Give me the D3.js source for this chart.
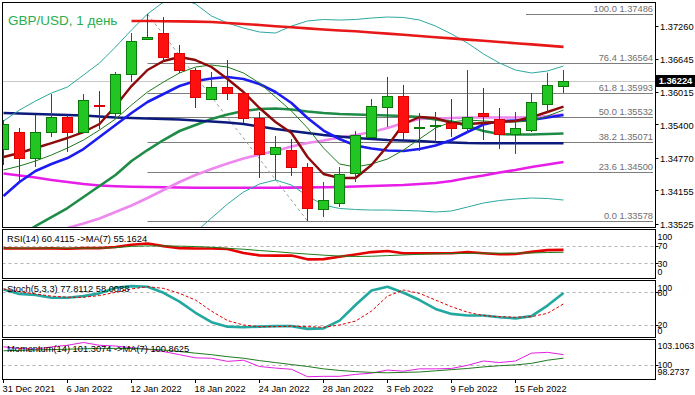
<!DOCTYPE html>
<html><head><meta charset="utf-8">
<script src="https://cdn.jsdelivr.net/npm/d3@7"></script>
<style>html,body{margin:0;padding:0;background:#fff;}svg{display:block;font-family:"Liberation Sans",Arial,sans-serif;}</style>
</head><body><div id="chart"></div>
<script>
// ---------- DATA ----------
const dates = ["31 Dec","3 Jan","4 Jan","5 Jan","6 Jan","7 Jan","10 Jan","11 Jan","12 Jan","13 Jan","14 Jan","17 Jan","18 Jan","19 Jan","20 Jan","21 Jan","24 Jan","25 Jan","26 Jan","27 Jan","28 Jan","31 Jan","1 Feb","2 Feb","3 Feb","4 Feb","7 Feb","8 Feb","9 Feb","10 Feb","11 Feb","14 Feb","15 Feb","16 Feb","17 Feb","18 Feb"];
const open  = [1.34937,1.35258,1.34767,1.35258,1.35541,1.35258,1.35768,1.35617,1.36353,1.37014,1.37127,1.36750,1.36429,1.35881,1.36108,1.35995,1.35523,1.34843,1.34918,1.34598,1.33805,1.33924,1.34484,1.35164,1.35730,1.35938,1.35353,1.35372,1.35428,1.35334,1.35617,1.35504,1.35220,1.35296,1.35787,1.36127];
const high  = [1.35485,1.35334,1.35579,1.35976,1.35579,1.35976,1.36032,1.36391,1.37127,1.37486,1.37429,1.36901,1.36467,1.36391,1.36618,1.36013,1.35636,1.35183,1.35126,1.34673,1.34314,1.34598,1.35277,1.35881,1.36297,1.36146,1.35617,1.35636,1.35881,1.36429,1.36089,1.35711,1.35636,1.35995,1.36378,1.36429];
const low   = [1.34635,1.34295,1.34598,1.35164,1.34881,1.35239,1.35315,1.35523,1.36202,1.36995,1.36580,1.36372,1.35711,1.35862,1.35862,1.35428,1.34390,1.34352,1.34428,1.33578,1.33654,1.33842,1.34314,1.35145,1.35353,1.35107,1.34900,1.35069,1.35164,1.35239,1.35107,1.34937,1.34843,1.35258,1.35617,1.35995];
const close = [1.35409,1.34767,1.35258,1.35541,1.35258,1.35862,1.35749,1.36353,1.36976,1.37052,1.36674,1.36429,1.35919,1.36108,1.35995,1.35523,1.34843,1.34975,1.34598,1.33823,1.33975,1.34465,1.35202,1.35749,1.35938,1.35258,1.35362,1.35381,1.35334,1.35541,1.35560,1.35220,1.35334,1.35825,1.36146,1.36224];

const maRed     = [null,null,null,null,null,null,null,null,1.37354,1.37354,1.37350,1.37346,1.37342,1.37335,1.37316,1.37297,1.37278,1.37255,1.37235,1.37214,1.37193,1.37174,1.37159,1.37136,1.37116,1.37093,1.37070,1.37048,1.37025,1.37002,1.36980,1.36957,1.36934,1.36912,1.36889,1.36866];
const maNavy    = [1.35617,1.35607,1.35598,1.35588,1.35579,1.35570,1.35551,1.35532,1.35523,1.35513,1.35504,1.35494,1.35475,1.35456,1.35438,1.35409,1.35362,1.35315,1.35277,1.35239,1.35201,1.35173,1.35145,1.35126,1.35107,1.35098,1.35088,1.35069,1.35060,1.35050,1.35047,1.35045,1.35045,1.35045,1.35045,1.35045];
const maBlue    = [1.34050,1.34314,1.34522,1.34654,1.34767,1.34937,1.35164,1.35390,1.35617,1.35824,1.35975,1.36126,1.36221,1.36268,1.36296,1.36259,1.36164,1.36013,1.35806,1.35522,1.35286,1.35126,1.35003,1.34947,1.34909,1.34899,1.34937,1.35003,1.35107,1.35258,1.35400,1.35466,1.35475,1.35485,1.35532,1.35579];
const maGreen   = [1.33125,1.33276,1.33483,1.33653,1.33823,1.34031,1.34239,1.34446,1.34711,1.34918,1.35107,1.35277,1.35390,1.35503,1.35588,1.35654,1.35692,1.35702,1.35683,1.35645,1.35617,1.35598,1.35588,1.35579,1.35570,1.35560,1.35541,1.35494,1.35456,1.35371,1.35277,1.35220,1.35211,1.35211,1.35220,1.35230];
const maMagenta = [1.34475,1.34437,1.34399,1.34352,1.34314,1.34276,1.34248,1.34235,1.34225,1.34220,1.34214,1.34210,1.34206,1.34205,1.34205,1.34205,1.34205,1.34206,1.34208,1.34212,1.34216,1.34220,1.34229,1.34239,1.34248,1.34257,1.34276,1.34295,1.34333,1.34390,1.34437,1.34493,1.34541,1.34597,1.34644,1.34692];
const maPink    = [1.33030,1.33144,1.33257,1.33370,1.33446,1.33531,1.33625,1.33748,1.33870,1.34012,1.34163,1.34314,1.34446,1.34559,1.34663,1.34758,1.34833,1.34899,1.34984,1.35050,1.35098,1.35154,1.35201,1.35258,1.35334,1.35428,1.35503,1.35513,1.35522,1.35532,1.35532,1.35532,1.35532,1.35541,1.35560,1.35588];
const maMaroon  = [1.34786,1.34862,1.34956,1.35050,1.35145,1.35258,1.35409,1.35749,1.36126,1.36429,1.36598,1.36674,1.36617,1.36485,1.36259,1.36013,1.35711,1.35447,1.35239,1.34786,1.34465,1.34390,1.34390,1.34635,1.34994,1.35409,1.35541,1.35522,1.35428,1.35409,1.35428,1.35447,1.35466,1.35541,1.35636,1.35739];
const maThin    = [1.34541,1.34616,1.34711,1.34824,1.34956,1.35107,1.35296,1.35503,1.35768,1.36013,1.36202,1.36372,1.36485,1.36523,1.36485,1.36372,1.36183,1.35919,1.35654,1.35334,1.34956,1.34654,1.34597,1.34654,1.34748,1.34918,1.35126,1.35334,1.35447,1.35485,1.35466,1.35447,1.35447,1.35466,1.35560,1.35673];
const bandUpper = [1.35466,1.35673,1.35843,1.35994,1.36108,1.36334,1.36561,1.36863,1.37184,1.37486,1.37712,1.37788,1.37675,1.37448,1.37316,1.37221,1.37146,1.37127,1.37259,1.37354,1.37382,1.37372,1.37382,1.37410,1.37429,1.37420,1.37372,1.37259,1.37108,1.36938,1.36731,1.36561,1.36428,1.36372,1.36410,1.36504];
const bandLower = [null,null,null,null,null,null,null,null,null,null,null,1.32747,1.33370,1.33634,1.33899,1.34125,1.34276,1.34352,1.34257,1.34050,1.33880,1.33814,1.33795,1.33785,1.33785,1.33776,1.33767,1.33748,1.33767,1.33842,1.33918,1.33965,1.33993,1.34012,1.34003,1.33974];

const fibLevels = ["0.0","23.6","38.2","50.0","61.8","76.4","100.0"];
const fibPrices = [1.33578,1.34500,1.35071,1.35532,1.35993,1.36564,1.37486];
const fibHighBar = 9, fibLowBar = 19;
const priceTicks = [1.37260,1.36645,1.36015,1.35400,1.34770,1.34155,1.33525];
const lastPrice = 1.36224;

const rsi    = [64,63.5,63.5,64,63,64.5,64.5,67,72,75,69,64.5,63.5,63.5,62.5,53.5,48,47.5,47.5,39,39.5,45,50,55.5,58,53,53,53,53,55.5,53,50.5,51,56,60,60.4115];
const rsiMA  = [64.5,64.5,64.5,64.5,64.5,64.5,64.5,65.5,68.5,69.5,69.5,69,68,66.5,64,62,59,56.5,53.5,51,48.5,46.5,45.5,46,47.5,49,50.5,51.5,52.5,52.5,53,53,53,53.5,54.5,55.1624];
const stochK = [84,76,74,69,69,72,77,87,90,89,78,62,42,25,17,16,17,18,18,13,14,28,56,82,89,78,65,49,40,37,37,34,32,36,55,77.8112];
const stochD = [85,80,76,72,70,70,73,79,85,89,86,77,65,45,28,20,17,17,18,17,16,20,27,45,72,83,77,65,53,43,37,35,34,35,41,58.0088];
const mom    = [102.3,102.1,102.0,102.3,102.5,102.85,102.5,102.4,102.2,102.0,101.7,101.3,100.9,100.85,100.45,100.6,99.8,99.6,99.45,98.5,98.55,98.55,98.8,98.95,99.35,99.2,99.5,99.5,99.55,99.95,100.5,100.3,100.5,101.5,101.6,101.3074];
const momMA  = [101.8,101.85,101.9,101.95,102.0,102.05,102.1,102.1,102.1,102.0,101.9,101.7,101.5,101.3,101.05,100.85,100.55,100.3,100.05,99.8,99.5,99.3,99.15,99.05,99.0,99.05,99.1,99.25,99.4,99.55,99.75,99.9,100.0,100.2,100.6,100.8625];

const xTickBars   = [0,4,8,12,16,20,24,28,32];
const xTickLabels = ["31 Dec 2021","6 Jan 2022","12 Jan 2022","18 Jan 2022","24 Jan 2022","28 Jan 2022","3 Feb 2022","9 Feb 2022","15 Feb 2022"];
const rsiLevels = [70,30], stochLevels = [80,20], momLevels = [100];
const rsiLabels = ["100","70","30","0"], stochLabels = ["100","80","20","0"], momLabels = ["103.1063","100","98.2737"];

// ---------- DRAW ----------
const W = 695, H = 395, R = 655.5, L = 2.5;
const FS = "9.3px", FSA = "8.8px";
const svg = d3.select("#chart").append("svg").attr("width", W).attr("height", H);
const defs = svg.append("defs");

const x = d3.scaleLinear().domain([0, 35]).range([3.5, 563.5]);
const y = d3.scaleLinear().domain([1.33578, 1.37486]).range([221, 14]);

const panels = {
  main: [2.5, 227.5], rsi: [229.5, 278.5], stoch: [280.5, 337.5], mom: [339.5, 379.5]
};
Object.entries(panels).forEach(([k, [t, b]]) => {
  defs.append("clipPath").attr("id", "clip-" + k).append("rect")
    .attr("x", L + 0.5).attr("y", t + 0.5).attr("width", R - L - 1).attr("height", b - t - 1);
});

const gMain = svg.append("g").attr("clip-path", "url(#clip-main)");

// bid line
gMain.append("line").attr("x1", L).attr("x2", R).attr("y1", Math.round(y(lastPrice)) + 0.5).attr("y2", Math.round(y(lastPrice)) + 0.5)
  .attr("stroke", "#c8c8c8").attr("stroke-width", 1);

// fibo lines
fibPrices.forEach((p, k) => {
  const yy = Math.round(y(p)) + 0.5;
  const x1 = k === fibPrices.length - 1 ? 526 : x(fibHighBar);
  gMain.append("line").attr("x1", x1).attr("x2", 653).attr("y1", yy).attr("y2", yy)
    .attr("stroke", "#7d7d7d").attr("stroke-width", 1);
});
gMain.append("line").attr("x1", x(fibHighBar)).attr("y1", y(fibPrices[6])).attr("x2", x(fibLowBar)).attr("y2", y(fibPrices[0]))
  .attr("stroke", "#9a9a9a").attr("stroke-width", 1).attr("stroke-dasharray", "3,3");

const line = arr => d3.line().defined(d => d != null).x((d, i) => x(i)).y(d => y(d))(arr);
const lines = [
  [maMagenta, "#e81ee8", 2.6],
  [maPink, "#ee88ee", 2.6],
  [maGreen, "#1e8c46", 2.6],
  [maNavy, "#0c1a7c", 2.6],
  [maBlue, "#1c1cf0", 2.6],
  [maThin, "#1e7a1e", 1],
  [bandUpper, "#2ea8a0", 1],
  [bandLower, "#2ea8a0", 1],
  [maMaroon, "#8c0a0a", 2.4],
  [maRed, "#e81818", 2.6]
];
lines.forEach(([arr, c, w]) => {
  gMain.append("path").attr("d", line(arr)).attr("fill", "none").attr("stroke", c).attr("stroke-width", w).attr("stroke-linejoin", "round");
});

// candles
const cg = gMain.append("g");
d3.range(close.length).forEach(i => {
  const up = close[i] >= open[i];
  const cx = x(i);
  const wickC = up ? "#0b6e0b" : "#c80000";
  cg.append("line").attr("x1", cx).attr("x2", cx).attr("y1", y(high[i])).attr("y2", y(low[i])).attr("stroke", wickC).attr("stroke-width", 1);
  let top = Math.round(y(Math.max(open[i], close[i]))) + 0.5;
  let bot = Math.round(y(Math.min(open[i], close[i]))) + 0.5;
  if (bot - top < 1) bot = top + 1;
  cg.append("rect").attr("x", cx - 5).attr("y", top).attr("width", 10).attr("height", bot - top)
    .attr("fill", up ? "#22c622" : "#ff1010").attr("stroke", up ? "#0b7a0b" : "#d80000").attr("stroke-width", 1);
});

// fibo labels
fibPrices.forEach((p, k) => {
  svg.append("text").attr("x", 653).attr("y", Math.round(y(p)) - 2).attr("text-anchor", "end")
    .attr("font-size", FS).attr("fill", "#6e6e6e").text(fibLevels[k] + " " + p.toFixed(5));
});

// title
svg.append("text").attr("x", 8).attr("y", 25).attr("font-size", "13.5px").attr("fill", "#2aaf4c").text("GBP/USD, 1 день");

// right axis (main)
priceTicks.forEach(p => {
  const yy = Math.round(y(p)) + 0.5;
  svg.append("line").attr("x1", R).attr("x2", R + 3).attr("y1", yy).attr("y2", yy).attr("stroke", "#000");
  svg.append("text").attr("x", 660).attr("y", y(p) + 4.5).attr("font-size", FS).attr("fill", "#000").text(p.toFixed(5));
});
svg.append("rect").attr("x", 656).attr("y", Math.round(y(lastPrice)) - 6).attr("width", 39).attr("height", 12).attr("fill", "#000");
svg.append("text").attr("x", 675.5).attr("y", y(lastPrice) + 3.5).attr("text-anchor", "middle").attr("font-size", FS)
  .attr("font-weight", "bold").attr("fill", "#fff").text(lastPrice.toFixed(5));

// ---------- sub panels ----------
function subPanel(key, domain, range, levels, series, labelText, labels, labelYs) {
  const ys = d3.scaleLinear().domain(domain).range(range);
  const g = svg.append("g").attr("clip-path", "url(#clip-" + key + ")");
  levels.forEach(v => {
    const yy = Math.round(ys(v)) + 0.5;
    g.append("line").attr("x1", L).attr("x2", R).attr("y1", yy).attr("y2", yy)
      .attr("stroke", "#b4b4b4").attr("stroke-dasharray", "3,3");
    svg.append("line").attr("x1", R).attr("x2", R + 3).attr("y1", yy).attr("y2", yy).attr("stroke", "#000");
  });
  series.forEach(([arr, c, w, dash]) => {
    const p = g.append("path").attr("d", d3.line().x((d, i) => x(i)).y(d => ys(d))(arr))
      .attr("fill", "none").attr("stroke", c).attr("stroke-width", w).attr("stroke-linejoin", "round");
    if (dash) p.attr("stroke-dasharray", dash);
  });
  svg.append("text").attr("x", 7).attr("y", labelYs.title).attr("font-size", FS).attr("fill", "#000").text(labelText);
  labels.forEach((t, k) => {
    svg.append("text").attr("x", 657.5).attr("y", labelYs.vals[k]).attr("font-size", FSA).attr("fill", "#000").text(t);
  });
}

subPanel("rsi", [0, 100], [276.5, 232.5], rsiLevels,
  [[rsi, "#e60000", 2.6], [rsiMA, "#1e7a1e", 1]],
  "RSI(14) 60.4115  ->MA(7) 55.1624", rsiLabels, { title: 242, vals: [240, 249, 266.6, 275] });

subPanel("stoch", [0, 100], [336.1, 280.6], stochLevels,
  [[stochK, "#22a8a0", 2.6], [stochD, "#e00000", 1, "3,2"]],
  "Stoch(5,3,3) 77.8112 58.0088", stochLabels, { title: 292, vals: [290.6, 296, 328.3, 334.3] });

subPanel("mom", [98.2737, 103.1063], [378.5, 340.5], momLevels,
  [[mom, "#e020e0", 1], [momMA, "#1e7a1e", 1]],
  "Momentum(14) 101.3074  ->MA(7) 100.8625", momLabels, { title: 351.5, vals: [349, 368.3, 375] });

// panel borders
Object.values(panels).forEach(([t, b]) => {
  svg.append("rect").attr("x", L).attr("y", t).attr("width", R - L).attr("height", b - t)
    .attr("fill", "none").attr("stroke", "#000").attr("stroke-width", 1);
});

// x axis
xTickBars.forEach((b, k) => {
  svg.append("line").attr("x1", x(b)).attr("x2", x(b)).attr("y1", 379.5).attr("y2", 383).attr("stroke", "#000");
  svg.append("text").attr("x", x(b) - 1).attr("y", 392).attr("font-size", FS).attr("fill", "#000").text(xTickLabels[k]);
});
</script>
</body></html>
